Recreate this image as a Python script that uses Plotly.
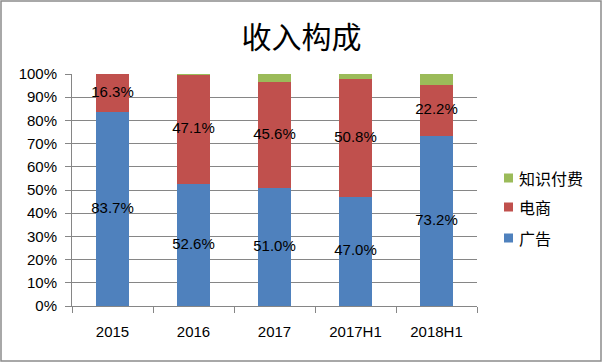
import plotly.graph_objects as go

categories = ["2015", "2016", "2017", "2017H1", "2018H1"]
series_names = ["广告", "电商", "知识付费"]
ad_values = [83.7, 52.6, 51.0, 47.0, 73.2]
ecom_values = [16.3, 47.1, 45.6, 50.8, 22.2]
knowledge_values = [0.0, 0.3, 3.4, 2.2, 4.6]
colors = ["#4F81BD", "#C0504D", "#9BBB59"]
labeled = [True, True, False]
y_tick_values = [i / 10 for i in range(11)]

W, H = 603, 363
L, R, T, B = 72, 126, 74, 57
pw, ph = W - L - R, H - T - B

def px_x(x):
    return (x - L) / pw

def px_y(y):
    return (H - B - y) / ph

FONT = "Liberation Sans, Arial, sans-serif"
CJK = "Noto Sans CJK SC, sans-serif"

all_series = [ad_values, ecom_values, knowledge_values]
fig = go.Figure()
for name, vals, col in zip(series_names, all_series, colors):
    fig.add_trace(go.Bar(
        x=categories, y=[v / 100 for v in vals], name=name,
        marker=dict(color=col, line=dict(width=0)),
        showlegend=False, hoverinfo="skip",
    ))

# data labels at the middle of each labeled segment
base = [0.0] * len(categories)
for vals, lab in zip(all_series, labeled):
    mids = [b + v / 200 for b, v in zip(base, vals)]
    if lab:
        fig.add_trace(go.Scatter(
            x=categories, y=mids, mode="text",
            text=[f"{v:.1f}%" for v in vals],
            textfont=dict(family=FONT, size=15, color="#000000"),
            showlegend=False, hoverinfo="skip",
        ))
    base = [b + v / 100 for b, v in zip(base, vals)]

shapes = []
annotations = []
# custom legend (reversed order)
legend_y = [238, 207, 178]
for name, col, ly in zip(series_names, colors, legend_y):
    shapes.append(dict(type="rect", xref="paper", yref="paper",
                       x0=px_x(504), x1=px_x(513), y0=px_y(ly + 4.5), y1=px_y(ly - 4.5),
                       fillcolor=col, line=dict(width=0)))
    annotations.append(dict(xref="paper", yref="paper", x=px_x(517), y=px_y(ly),
                            xanchor="left", yanchor="middle", showarrow=False,
                            text=name, font=dict(family=CJK, size=16, color="#000000")))

# chart border
shapes.append(dict(type="rect", xref="paper", yref="paper",
                   x0=px_x(1), x1=px_x(601), y0=px_y(361), y1=px_y(1),
                   line=dict(color="#8C8C8C", width=1.5), fillcolor="rgba(0,0,0,0)"))

fig.update_layout(
    width=W, height=H,
    margin=dict(l=L, r=R, t=T, b=B),
    barmode="stack", bargap=0.6,
    paper_bgcolor="white", plot_bgcolor="white",
    title=dict(text="收入构成", x=0.5, xref="container", xanchor="center",
               y=1 - 37 / H, yref="container", yanchor="middle",
               font=dict(family=CJK, size=30, color="#000000")),
    shapes=shapes, annotations=annotations,
    xaxis=dict(type="category", showline=True, linecolor="#868686", linewidth=1,
               ticks="outside", tickson="boundaries", ticklen=6, tickcolor="#868686",
               showgrid=False, tickfont=dict(family=FONT, size=15, color="#000000"),
               ticklabelstandoff=12),
    yaxis=dict(range=[0, 1], tickvals=y_tick_values, tickformat=".0%",
               showline=True, linecolor="#868686", linewidth=1,
               ticks="outside", ticklen=6, tickcolor="#868686",
               showgrid=True, gridcolor="#868686", gridwidth=1, zeroline=False,
               tickfont=dict(family=FONT, size=15, color="#000000"),
               ticklabelstandoff=5),
)

fig.write_html("out.html")
